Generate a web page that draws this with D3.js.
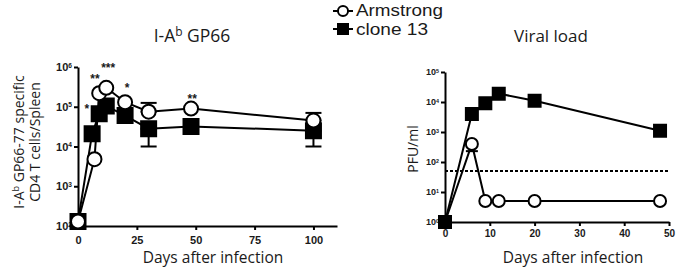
<!DOCTYPE html>
<html>
<head>
<meta charset="utf-8">
<title>GP66 / viral load</title>
<style>
	body { margin: 0; background: #fff; }
	svg text { font-family: "Open Sans", sans-serif; fill: #1a1a1a; }
	.tick text { font-family: "Liberation Sans", Arial, sans-serif; font-weight: bold; }
	.axis path, .axis line { stroke: #000; stroke-width: 2; }
</style>
</head>
<body>
<svg width="688" height="274"></svg>
<script src="https://cdn.jsdelivr.net/npm/d3@7"></script>
<script>
	// left panel: I-Ab GP66 specific CD4 T cells per spleen
	let gpArmDays  = [0, 7, 9, 12, 20, 30, 48, 100]
	let gpArm      = [130, 4800, 220000, 300000, 130000, 75000, 90000, 45000]
	let gpCl13Days = [0, 6, 9, 12, 20, 30, 48, 100]
	let gpCl13     = [130, 21000, 67000, 105000, 60000, 28000, 32000, 25000]
	// error bars still visible behind the markers
	let gpErrDays = [30, 30, 100, 100]
	let gpErrLo   = [75000, 10000, 45000, 10000]
	let gpErrHi   = [125000, 28000, 70000, 25000]
	// significance stars
	let starDays = [3.8, 7.2, 12.8, 20.9, 48.5]
	let starVals = [68000, 400000, 760000, 240000, 126000]
	let starText = ["*", "**", "***", "*", "**"]

	// right panel: viral load
	let vlDays = [0, 6, 9, 12, 20, 48]
	let vlArm  = [1, 400, 5, 5, 5, 5]
	let vlCl13 = [1, 4000, 9000, 19000, 11000, 1100]
	let vlErrDays = [6]
	let vlErrLo   = [230]
	let vlErrHi   = [400]
	let detectLimit = 50

	let svg = d3.select("svg")

	// log tick label as 10 with a small superscript
	function powLabel(sel, supSize) {
		sel.selectAll(".tick text").each(function(d) {
			let t = d3.select(this).text("")
			t.append("tspan").text("10")
			t.append("tspan").attr("font-size", supSize).attr("dy", "-0.5em")
				.text(Math.round(Math.log10(d)))
		})
	}

	function panel(o) {
		let x = d3.scaleLinear().domain(o.xDomain).range(o.xRange)
		let y = d3.scaleLog().domain(o.yDomain).range(o.yRange)
		let g = svg.append("g")

		let ax = g.append("g").attr("class", "axis")
			.attr("transform", `translate(0,${o.yRange[0]})`)
			.call(d3.axisBottom(x).tickValues(o.xTicks).tickSize(4).tickSizeOuter(0).tickPadding(o.xPad))
		ax.selectAll(".tick text").attr("font-size", o.xTickFont)
		let ay = g.append("g").attr("class", "axis")
			.attr("transform", `translate(${o.xRange[0]},0)`)
			.call(d3.axisLeft(y).tickValues(o.yTicks).tickSize(4).tickSizeOuter(0).tickPadding(2))
		ay.selectAll(".tick text").attr("font-size", o.yTickFont)
		powLabel(ay, o.yTickFont * 0.6)

		return { x, y, g }
	}

	function series(p, days, vals, shape, size) {
		let pts = days.map((d, i) => [p.x(d), p.y(vals[i])])
		p.g.append("path").attr("d", d3.line()(pts))
			.attr("fill", "none").attr("stroke", "#000").attr("stroke-width", 2)
		let sym = d3.symbol().type(shape === "sq" ? d3.symbolSquare : d3.symbolCircle)
			.size(shape === "sq" ? size * size : Math.PI * size * size / 4)
		p.g.selectAll(null).data(pts).enter().append("path")
			.attr("transform", d => `translate(${d[0]},${d[1]})`)
			.attr("d", sym)
			.attr("fill", shape === "sq" ? "#000" : "#fff")
			.attr("stroke", "#000").attr("stroke-width", 2)
	}

	function errBars(p, days, lo, hi, cap) {
		let eb = p.g.append("g").attr("stroke", "#000").attr("stroke-width", 2)
		days.forEach((d, i) => {
			let cx = p.x(d)
			eb.append("line").attr("x1", cx).attr("x2", cx).attr("y1", p.y(lo[i])).attr("y2", p.y(hi[i]))
			eb.append("line").attr("x1", cx - cap).attr("x2", cx + cap).attr("y1", p.y(lo[i])).attr("y2", p.y(lo[i]))
			eb.append("line").attr("x1", cx - cap).attr("x2", cx + cap).attr("y1", p.y(hi[i])).attr("y2", p.y(hi[i]))
		})
	}

	// ---- left panel
	let L = panel({ xDomain: [0, 110], xRange: [78, 337], yDomain: [100, 1e6], yRange: [226, 67],
		xTicks: [0, 25, 50, 75, 100], yTicks: [1e2, 1e3, 1e4, 1e5, 1e6], xTickFont: 11, yTickFont: 11, xPad: 6 })
	errBars(L, gpErrDays, gpErrLo, gpErrHi, 8)
	series(L, gpCl13Days, gpCl13, "sq", 15)
	series(L, gpArmDays, gpArm, "ci", 14)
	L.g.selectAll(".star").data(starText).enter().append("text")
		.attr("x", (d, i) => L.x(starDays[i])).attr("y", (d, i) => L.y(starVals[i]))
		.attr("text-anchor", "middle").attr("font-size", 12).attr("font-weight", "bold")
		.style("font-family", "Liberation Sans, Arial, sans-serif")
		.text(d => d)

	let t1 = svg.append("text").attr("x", 192).attr("y", 42).attr("text-anchor", "middle").attr("font-size", 17.5)
	t1.append("tspan").text("I-A")
	t1.append("tspan").attr("font-size", 12).attr("dy", -6).text("b")
	t1.append("tspan").attr("dy", 6).text(" GP66")

	let yl = svg.append("g").attr("transform", "translate(0,142) rotate(-90)")
	let yl1 = yl.append("text").attr("x", 0).attr("y", 24).attr("text-anchor", "middle").attr("font-size", 14)
	yl1.append("tspan").text("I-A")
	yl1.append("tspan").attr("font-size", 9).attr("dy", -5).text("b")
	yl1.append("tspan").attr("dy", 5).text(" GP66-77 specific")
	yl.append("text").attr("x", 0).attr("y", 40).attr("text-anchor", "middle").attr("font-size", 14)
		.text("CD4 T cells/Spleen")

	svg.append("text").attr("x", 213).attr("y", 263).attr("text-anchor", "middle").attr("font-size", 15.5)
		.text("Days after infection")

	// ---- right panel
	let R = panel({ xDomain: [0, 50], xRange: [445, 669], yDomain: [1, 1e5], yRange: [222, 72],
		xTicks: [0, 10, 20, 30, 40, 50], yTicks: [1, 10, 1e2, 1e3, 1e4, 1e5], xTickFont: 10, yTickFont: 9, xPad: 4 })
	R.g.append("line")
		.attr("x1", R.x(0)).attr("x2", R.x(50)).attr("y1", R.y(detectLimit)).attr("y2", R.y(detectLimit))
		.attr("stroke", "#000").attr("stroke-width", 2).attr("stroke-dasharray", "3,2")
	errBars(R, vlErrDays, vlErrLo, vlErrHi, 6)
	series(R, vlDays, vlArm, "ci", 12)
	series(R, vlDays, vlCl13, "sq", 12)

	svg.append("text").attr("x", 551).attr("y", 42).attr("text-anchor", "middle").attr("font-size", 17)
		.text("Viral load")
	svg.append("text").attr("transform", "translate(418,149) rotate(-90)").attr("text-anchor", "middle")
		.attr("font-size", 14).text("PFU/ml")
	svg.append("text").attr("x", 573).attr("y", 263).attr("text-anchor", "middle").attr("font-size", 15.5)
		.text("Days after infection")

	// ---- legend
	let lg = svg.append("g")
	let legNames  = ["Armstrong", "clone 13"]
	let legShapes = ["ci", "sq"]
	let legY = [11, 29]
	let legW = [87, 72]
	legNames.forEach((name, i) => {
		let ly = legY[i], sq = legShapes[i] === "sq"
		lg.append("line").attr("x1", 333).attr("x2", 353).attr("y1", ly).attr("y2", ly)
			.attr("stroke", "#000").attr("stroke-width", 2)
		lg.append("path").attr("transform", `translate(343,${ly})`)
			.attr("d", d3.symbol().type(sq ? d3.symbolSquare : d3.symbolCircle).size(sq ? 100 : 80))
			.attr("fill", sq ? "#000" : "#fff").attr("stroke", "#000").attr("stroke-width", 2)
		// tighter line box than Open Sans, stretched to the original width
		lg.append("text").attr("x", 356).attr("y", i ? 35 : 16)
			.style("font-family", "Liberation Sans, Arial, sans-serif").attr("font-size", 16)
			.attr("textLength", legW[i]).attr("lengthAdjust", "spacingAndGlyphs")
			.text(name)
	})
</script>
</body>
</html>
